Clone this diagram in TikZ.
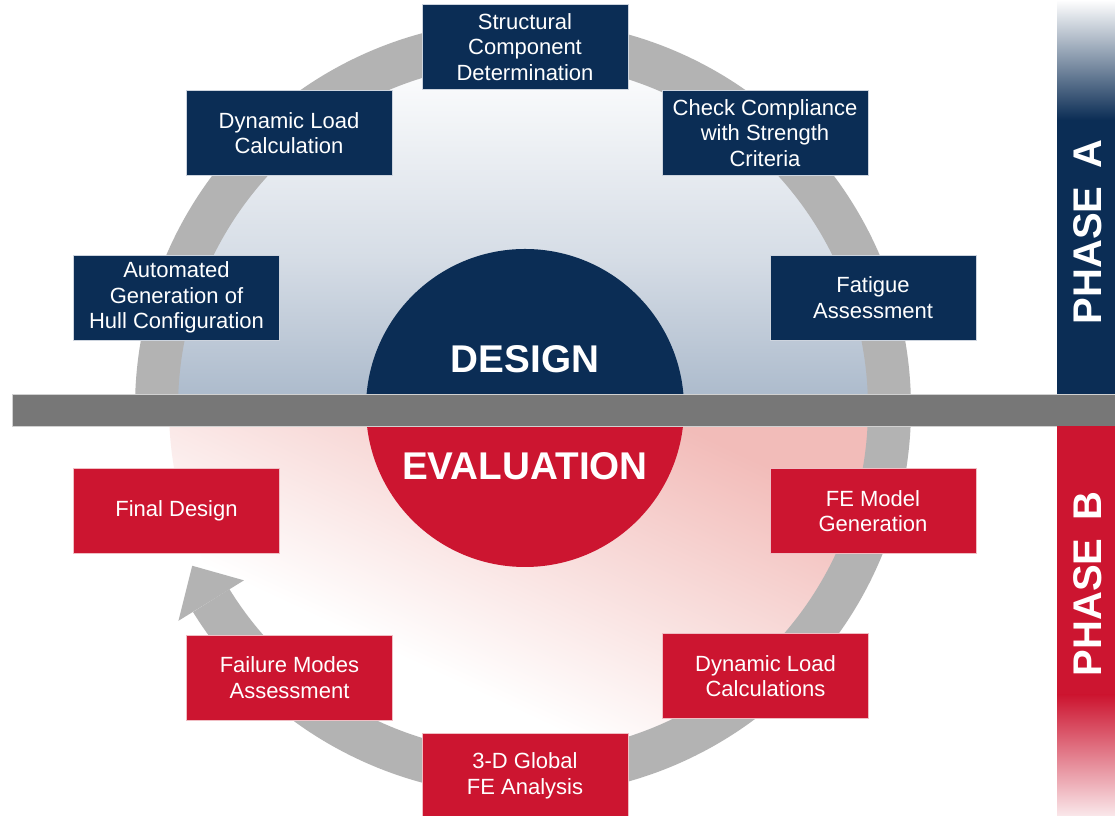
\documentclass[tikz,border=0pt]{standalone}
\usepackage{fontspec}
\setmainfont{Liberation Sans}
\usetikzlibrary{calc}
\definecolor{navy}{HTML}{0B2D55}
\definecolor{crimson}{HTML}{CC1530}
\definecolor{ringgray}{HTML}{B3B3B3}
\definecolor{bargray}{HTML}{777777}
\definecolor{paleblue}{HTML}{A9B8CA}
\definecolor{midblue}{HTML}{D6DDE6}
\definecolor{palepink}{HTML}{F2BCB9}
\pgfdeclareverticalshading{pinkfade}{100bp}{color(0bp)=(white); color(38bp)=(white); color(72bp)=(palepink); color(100bp)=(palepink)}
\begin{document}
\begin{tikzpicture}[x=0.75pt,y=0.75pt,
  box/.style={minimum width=154.5pt, minimum height=63.75pt, inner sep=2pt, align=center, text=white, font=\fontsize{16.5}{19.2}\selectfont, line width=0.6pt},
  navybox/.style={box, fill=navy, draw={rgb,255:red,205;green,212;blue,222}},
  redbox/.style={box, fill=crimson, draw={rgb,255:red,240;green,190;blue,196}},
  big/.style={text=white, inner sep=0pt, font=\bfseries\fontsize{29}{34}\selectfont},
  phase/.style={text=white, inner sep=0pt, font=\bfseries\fontsize{30}{36}\selectfont, rotate=90}
]
\useasboundingbox (0,0) rectangle (1115,816);
\fill[white] (0,0) rectangle (1115,816);
\coordinate (C) at (523,408);
\coordinate (M) at (525,408);
% inner disk, upper half
\begin{scope}
  \clip (C) circle[radius=354];
  \shade[top color=midblue, bottom color=paleblue] (150,560) rectangle (900,408);
  \shade[top color=white, bottom color=midblue] (150,762) rectangle (900,560);
  \shade[shading=pinkfade, shading angle=-25] (150,408) rectangle (900,50);
\end{scope}
% ring with arrow
\draw[ringgray, line width=32.25pt] ($(C)+(180:366.5)$) arc[start angle=180, end angle=-148.3, radius=366.5];
\fill[ringgray] ($(C)+(-148.3:405)$) -- ($(C)+(-154.5:366.5)$) -- ($(C)+(-148.3:328)$) -- cycle;
% centre circle
\fill[navy] ($(M)+(159,0)$) arc[start angle=0, end angle=180, radius=159] -- cycle;
\fill[crimson] ($(M)+(159,0)$) arc[start angle=0, end angle=-180, radius=159] -- cycle;
\node[big] (design) at (525,457) {DESIGN};
\node[big] (eval) at (525,350) {EVALUATION};
% boxes
\node[navybox] (scd) at (525,769) {Structural\\Component\\Determination};
\node[navybox] (dlc) at (289,683) {Dynamic Load\\Calculation};
\node[navybox] (ccs) at (765,683) {Check Compliance\\with Strength\\Criteria};
\node[navybox] (agh) at (176.5,518.5) {Automated\\Generation of\\Hull Configuration};
\node[navybox] (fat) at (873,518.5) {Fatigue\\Assessment};
\node[redbox] (fin) at (176.5,305) {Final Design};
\node[redbox] (fem) at (873,305) {FE Model\\Generation};
\node[redbox] (fma) at (289.5,138.5) {Failure Modes\\Assessment};
\node[redbox] (dlcs) at (765.5,140) {Dynamic Load\\Calculations};
\node[redbox] (gfe) at (525,40) {3-D Global\\FE Analysis};
% horizontal bar
\filldraw[fill=bargray, draw=black!18, line width=0.5pt] (12,390) rectangle (1115,422);
% phase bars
\fill[navy] (1057,422) rectangle (1115,697);
\shade[top color=white, bottom color=navy] (1057,816) rectangle (1115,696);
\fill[crimson] (1057,390) rectangle (1115,120);
\shade[top color=crimson, bottom color=crimson!10] (1057,121) rectangle (1115,0);
\node[phase] (pa) at (1088,584) {PHASE\hspace{0.45em}A};
\node[phase] (pb) at (1088,232) {PHASE\hspace{0.45em}B};
\end{tikzpicture}
\end{document}
